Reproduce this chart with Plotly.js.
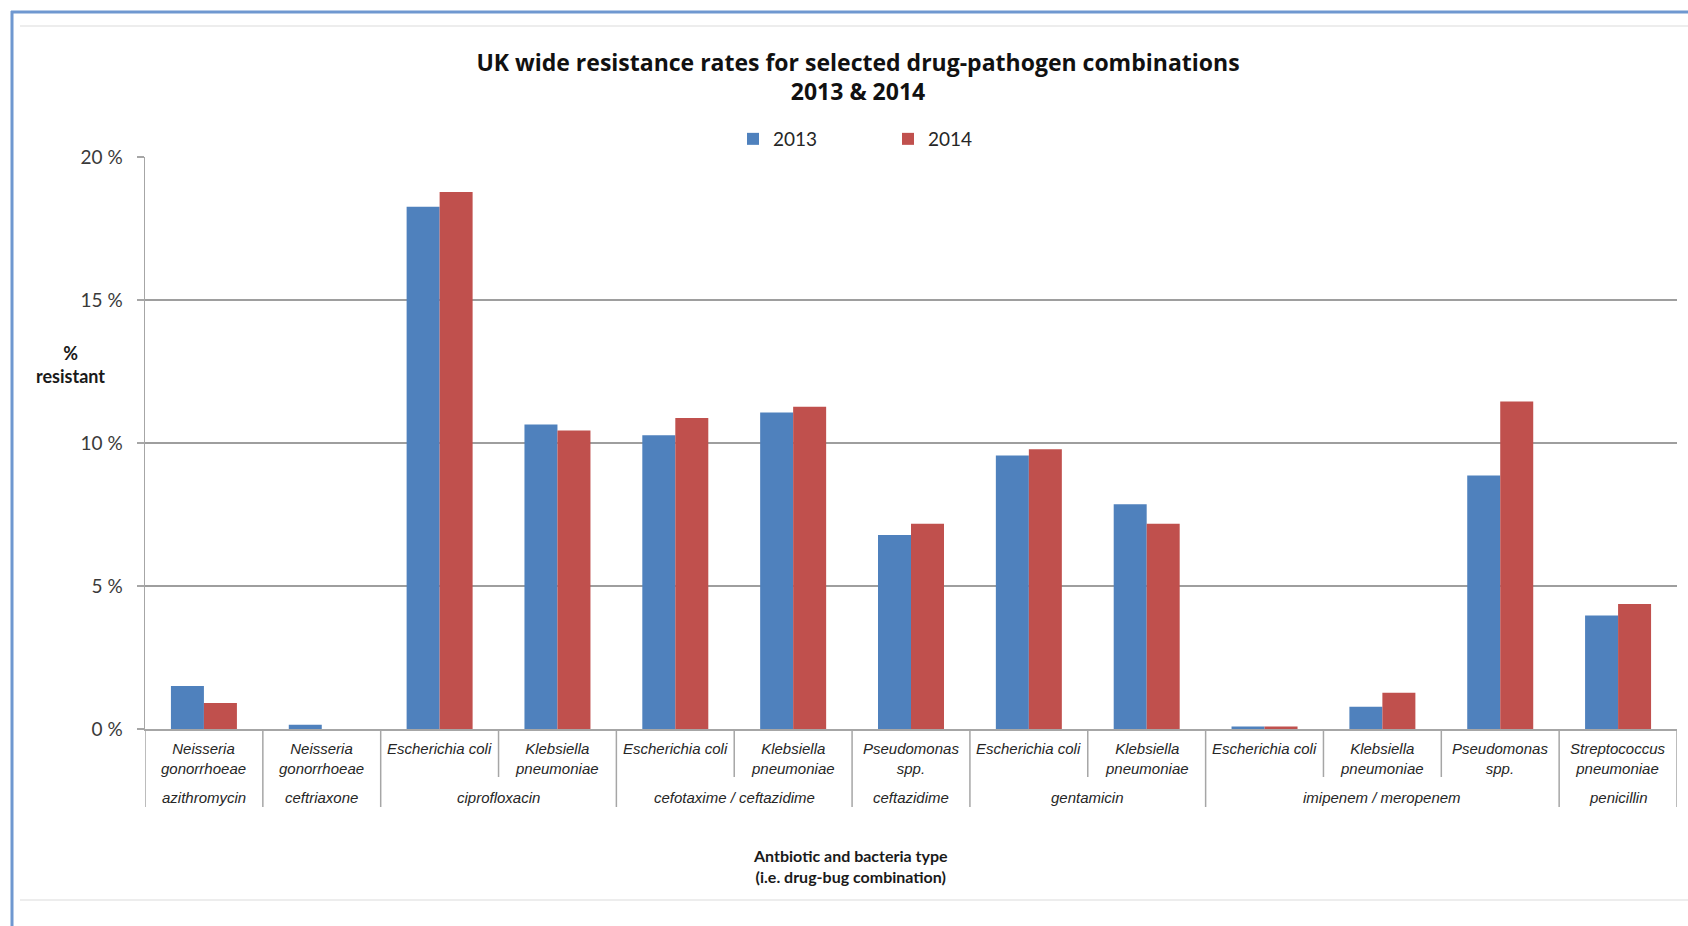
<!DOCTYPE html>
<html>
<head>
<meta charset="utf-8">
<script src="https://cdn.plot.ly/plotly-3.0.1.min.js"></script>
<style>
  html, body { margin: 0; padding: 0; background: #ffffff; }
  #chart { width: 1688px; height: 926px; }
</style>
</head>
<body>
<div id="chart"></div>
<script>
// ---- data ----
const organisms = [
  'Neisseria<br>gonorrhoeae',
  'Neisseria<br>gonorrhoeae',
  'Escherichia coli',
  'Klebsiella<br>pneumoniae',
  'Escherichia coli',
  'Klebsiella<br>pneumoniae',
  'Pseudomonas<br>spp.',
  'Escherichia coli',
  'Klebsiella<br>pneumoniae',
  'Escherichia coli',
  'Klebsiella<br>pneumoniae',
  'Pseudomonas<br>spp.',
  'Streptococcus<br>pneumoniae'
];
const antibiotics = [
  'azithromycin',
  'ceftriaxone',
  'ciprofloxacin',
  'ciprofloxacin',
  'cefotaxime / ceftazidime',
  'cefotaxime / ceftazidime',
  'ceftazidime',
  'gentamicin',
  'gentamicin',
  'imipenem / meropenem',
  'imipenem / meropenem',
  'imipenem / meropenem',
  'penicillin'
];
const seriesNames = ['2013', '2014'];
const rate2013 = [1.50, 0.15, 18.26, 10.65, 10.27, 11.07, 6.78, 9.56, 7.86, 0.09, 0.78, 8.86, 3.97];
const rate2014 = [0.91, 0.00, 18.78, 10.44, 10.87, 11.27, 7.18, 9.78, 7.18, 0.09, 1.27, 11.45, 4.37];
const yTickValues = [0, 5, 10, 15, 20];
const yTickText = ['0 %', '5 %', '10 %', '15 %', '20 %'];

// ---- layout helpers (pixel geometry of the plot area) ----
const W = 1688, H = 926;
const M = { l: 145, r: 11, t: 157, b: 197 };
const plotW = W - M.l - M.r, plotH = H - M.t - M.b;
const px = p => (p - M.l) / plotW;            // pixel x -> paper x
const py = p => (H - M.b - p) / plotH;        // pixel y -> paper y

const xIdx = organisms.map((_, i) => i);

const LATO = 'Lato, "Open Sans", sans-serif';
const OPEN = '"Open Sans", Lato, sans-serif';
const ARIAL = '"Liberation Sans", Arial, sans-serif';

const traces = [
  { type: 'bar', name: seriesNames[0], x: xIdx, y: rate2013,
    marker: { color: '#4F81BD' }, hoverinfo: 'y+name' },
  { type: 'bar', name: seriesNames[1], x: xIdx, y: rate2014,
    marker: { color: '#C0504D' }, hoverinfo: 'y+name' }
];

const annotations = [];
const shapes = [];

// organism labels (inner level)
organisms.forEach((lab, i) => {
  annotations.push({
    x: i, xref: 'x', xanchor: 'center', y: py(738), yref: 'paper', yanchor: 'top',
    text: '<i>' + lab + '</i>', showarrow: false,
    font: { family: ARIAL, size: 15, color: '#262626' }
  });
});

// antibiotic groups (outer level) + separators
let start = 0;
for (let i = 0; i <= antibiotics.length; i++) {
  if (i === antibiotics.length || antibiotics[i] !== antibiotics[start]) {
    annotations.push({
      x: (start + i - 1) / 2, xref: 'x', xanchor: 'center', y: py(797), yref: 'paper', yanchor: 'middle',
      text: '<i>' + antibiotics[start] + '</i>', showarrow: false,
      font: { family: ARIAL, size: 15, color: '#262626' }
    });
    start = i;
  }
}
for (let i = 0; i <= antibiotics.length; i++) {
  const isGroupEdge = (i === 0 || i === antibiotics.length || antibiotics[i] !== antibiotics[i - 1]);
  shapes.push({
    type: 'line', xref: 'x', yref: 'paper',
    x0: i - 0.5, x1: i - 0.5, y0: 0, y1: isGroupEdge ? py(807) : py(777),
    line: { color: '#A6A6A6', width: 1.5 }
  });
}

// y-axis title (horizontal, as in the reference)
annotations.push({
  x: px(70), xref: 'paper', xanchor: 'center', y: py(364), yref: 'paper', yanchor: 'middle',
  text: '<b>%<br>resistant</b>', showarrow: false,
  font: { family: LATO, size: 18, color: '#1a1a1a' }
});

// x-axis title
annotations.push({
  x: px(850), xref: 'paper', xanchor: 'center', y: py(866), yref: 'paper', yanchor: 'middle',
  text: '<b>Antbiotic and bacteria type<br>(i.e. drug-bug combination)</b>', showarrow: false,
  font: { family: LATO, size: 16, color: '#1a1a1a' }
});

// frame of the embedded chart (blue selection border + light separator lines)
shapes.push({ type: 'line', xref: 'paper', yref: 'paper', x0: px(11), x1: px(W + 5), y0: py(12), y1: py(12),
  line: { color: '#6F98D0', width: 3 } });
shapes.push({ type: 'line', xref: 'paper', yref: 'paper', x0: px(12), x1: px(12), y0: py(11), y1: py(H + 5),
  line: { color: '#6F98D0', width: 3 } });
shapes.push({ type: 'line', xref: 'paper', yref: 'paper', x0: px(20), x1: px(W + 5), y0: py(26), y1: py(26),
  line: { color: '#EDEDED', width: 2 } });
shapes.push({ type: 'line', xref: 'paper', yref: 'paper', x0: px(20), x1: px(W + 5), y0: py(900), y1: py(900),
  line: { color: '#EDEDED', width: 2 } });

const layout = {
  width: W, height: H,
  margin: M,
  paper_bgcolor: '#ffffff', plot_bgcolor: '#ffffff',
  title: {
    text: '<b>UK wide resistance rates for selected drug-pathogen combinations<br>2013 & 2014</b>',
    font: { family: OPEN, size: 23, color: '#111111' },
    x: 858 / W, xref: 'container', xanchor: 'center',
    y: 1 - 70.5 / H, yref: 'container', yanchor: 'middle'
  },
  barmode: 'group', bargap: 0.44, bargroupgap: 0,
  showlegend: true,
  legend: {
    orientation: 'h', x: px(733), xanchor: 'left', y: py(139), yanchor: 'middle',
    font: { family: LATO, size: 19, color: '#262626' },
    entrywidth: 110, entrywidthmode: 'pixels', bgcolor: 'rgba(0,0,0,0)'
  },
  xaxis: {
    range: [-0.5, organisms.length - 0.5],
    showticklabels: false, showgrid: false, zeroline: false,
    showline: true, linecolor: '#A6A6A6', linewidth: 1.5, ticks: '', fixedrange: true
  },
  yaxis: {
    range: [0, 20], tickvals: yTickValues, ticktext: yTickText,
    showgrid: true, gridcolor: '#9E9E9E', gridwidth: 1.3,
    zeroline: false, showline: true, linecolor: '#A6A6A6', linewidth: 1.5,
    ticks: 'outside', ticklen: 7, tickcolor: '#A6A6A6', tickwidth: 1.5,
    ticklabelstandoff: 10,
    tickfont: { family: LATO, size: 19, color: '#3a3a3a' }, fixedrange: true
  },
  annotations: annotations,
  shapes: shapes
};

Plotly.newPlot('chart', traces, layout, { displayModeBar: false, staticPlot: true });
</script>
</body>
</html>
